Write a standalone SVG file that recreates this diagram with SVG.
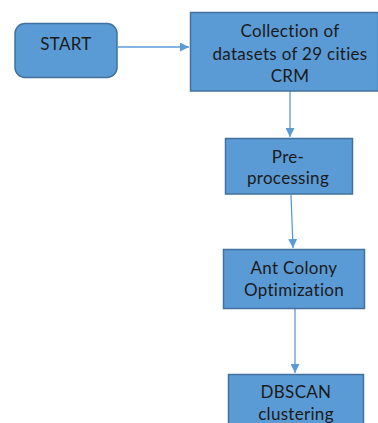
<svg xmlns="http://www.w3.org/2000/svg" width="378" height="423" viewBox="0 0 378 423">
<style>
.box{fill:#5b9bd5;stroke:#41719c;stroke-width:1.5}
.lbl{font-family:Lato,"Open Sans","Liberation Sans",sans-serif;font-size:17px;letter-spacing:0.3px;fill:#1a1a1a;text-anchor:middle}
.conn{stroke:#5b9bd5;stroke-width:1.3;fill:none}
</style>
<defs>
<marker id="ah" viewBox="0 0 10 10" refX="10" refY="5" markerWidth="9" markerHeight="9" markerUnits="userSpaceOnUse" orient="auto">
<path d="M0,0 L10,5 L0,10 z" fill="#5b9bd5"/>
</marker>
</defs>
<rect width="378" height="423" fill="#ffffff"/>
<g id="connectors">
<line class="conn" x1="118" y1="47" x2="189" y2="47" marker-end="url(#ah)"/>
<line class="conn" x1="290" y1="91" x2="290" y2="137" marker-end="url(#ah)"/>
<line class="conn" x1="291" y1="195" x2="293" y2="248" marker-end="url(#ah)"/>
<line class="conn" x1="295" y1="309" x2="295" y2="373" marker-end="url(#ah)"/>
</g>
<g id="start">
<rect class="box" x="15" y="23.5" width="102" height="54" rx="10"/>
<text class="lbl" x="66" y="50">START</text>
</g>
<g id="collection">
<rect class="box" x="190.5" y="12.5" width="188" height="78.5"/>
<text class="lbl" x="290" y="37">Collection  of</text>
<text class="lbl" x="290" y="59.5">datasets of 29 cities</text>
<text class="lbl" x="290" y="82">CRM</text>
</g>
<g id="preprocessing">
<rect class="box" x="225.5" y="138.5" width="127" height="55.5"/>
<text class="lbl" x="288" y="163">Pre-</text>
<text class="lbl" x="288" y="184">processing</text>
</g>
<g id="aco">
<rect class="box" x="223.5" y="249.5" width="141" height="59"/>
<text class="lbl" x="294" y="274">Ant Colony</text>
<text class="lbl" x="294" y="296">Optimization</text>
</g>
<g id="dbscan">
<rect class="box" x="228.5" y="374.5" width="135" height="60"/>
<text class="lbl" x="296" y="398">DBSCAN</text>
<text class="lbl" x="296" y="420">clustering</text>
</g>
</svg>
